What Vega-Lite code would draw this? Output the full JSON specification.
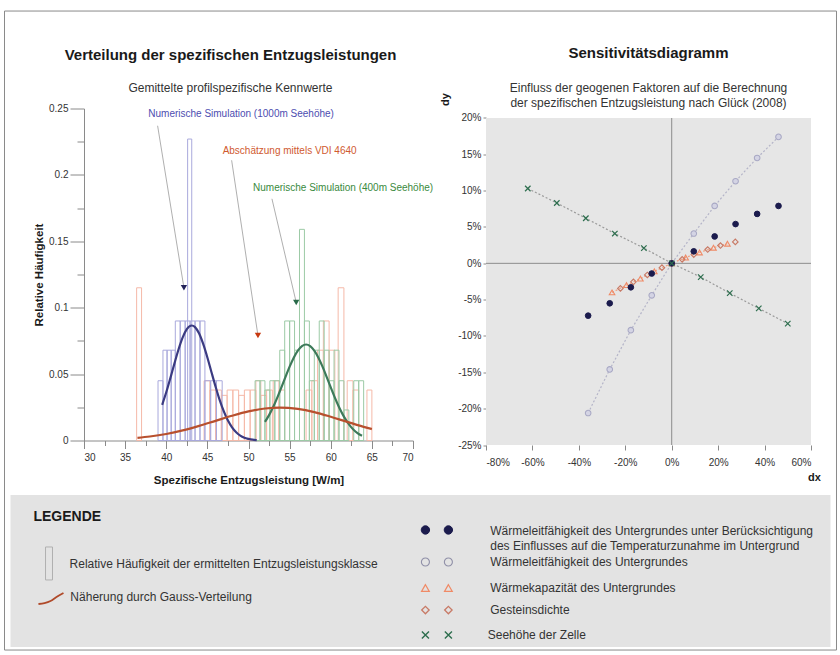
{
  "$schema": "https://vega.github.io/schema/vega-lite/v6.json",
  "padding": {"left": 4, "top": 10.5, "right": 0, "bottom": 0},
  "background": "#ffffff",
  "config": {
    "font": "Liberation Sans",
    "view": {"stroke": null},
    "axis": {"labelFont": "Liberation Sans", "titleFont": "Liberation Sans", "labelColor": "#333333", "titleColor": "#1a1a1a", "domainColor": "#8a8a8a", "tickColor": "#8a8a8a", "labelFontSize": 10, "labelOverlap": false},
    "title": {"font": "Liberation Sans", "color": "#1a1a1a", "subtitleFont": "Liberation Sans", "subtitleColor": "#333333"},
    "text": {"font": "Liberation Sans"}
  },
  "datasets": {
    "hist": [
      {"series": "VDI", "x0": 36.4, "x1": 37.0, "h": 0.115},
      {"series": "VDI", "x0": 44.6, "x1": 45.3, "h": 0.045},
      {"series": "VDI", "x0": 45.3, "x1": 46.0, "h": 0.038},
      {"series": "VDI", "x0": 46.0, "x1": 46.7, "h": 0.038},
      {"series": "VDI", "x0": 46.7, "x1": 47.4, "h": 0.034},
      {"series": "VDI", "x0": 47.4, "x1": 48.1, "h": 0.038},
      {"series": "VDI", "x0": 48.1, "x1": 48.8, "h": 0.038},
      {"series": "VDI", "x0": 48.8, "x1": 49.5, "h": 0.034},
      {"series": "VDI", "x0": 49.5, "x1": 50.2, "h": 0.038},
      {"series": "VDI", "x0": 50.2, "x1": 50.9, "h": 0.038},
      {"series": "VDI", "x0": 50.9, "x1": 51.5, "h": 0.045},
      {"series": "VDI", "x0": 51.5, "x1": 52.2, "h": 0.034},
      {"series": "VDI", "x0": 52.2, "x1": 52.9, "h": 0.038},
      {"series": "VDI", "x0": 53.0, "x1": 53.7, "h": 0.045},
      {"series": "VDI", "x0": 53.7, "x1": 54.4, "h": 0.038},
      {"series": "VDI", "x0": 57.0, "x1": 57.7, "h": 0.038},
      {"series": "VDI", "x0": 57.7, "x1": 58.4, "h": 0.045},
      {"series": "VDI", "x0": 58.4, "x1": 59.1, "h": 0.068},
      {"series": "VDI", "x0": 59.1, "x1": 59.8, "h": 0.09},
      {"series": "VDI", "x0": 59.8, "x1": 60.5, "h": 0.068},
      {"series": "VDI", "x0": 60.9, "x1": 61.6, "h": 0.115},
      {"series": "VDI", "x0": 62.0, "x1": 62.7, "h": 0.045},
      {"series": "VDI", "x0": 62.7, "x1": 63.4, "h": 0.038},
      {"series": "VDI", "x0": 64.4, "x1": 65.0, "h": 0.038},
      {"series": "1000m", "x0": 39.0, "x1": 39.6, "h": 0.045},
      {"series": "1000m", "x0": 39.6, "x1": 40.1, "h": 0.068},
      {"series": "1000m", "x0": 40.1, "x1": 40.6, "h": 0.068},
      {"series": "1000m", "x0": 40.6, "x1": 41.1, "h": 0.068},
      {"series": "1000m", "x0": 41.1, "x1": 41.7, "h": 0.09},
      {"series": "1000m", "x0": 41.7, "x1": 42.3, "h": 0.09},
      {"series": "1000m", "x0": 42.3, "x1": 42.9, "h": 0.09},
      {"series": "1000m", "x0": 42.6, "x1": 43.1, "h": 0.227},
      {"series": "1000m", "x0": 42.9, "x1": 43.5, "h": 0.09},
      {"series": "1000m", "x0": 43.5, "x1": 44.1, "h": 0.09},
      {"series": "1000m", "x0": 44.1, "x1": 44.7, "h": 0.09},
      {"series": "1000m", "x0": 44.7, "x1": 45.4, "h": 0.045},
      {"series": "1000m", "x0": 45.4, "x1": 46.1, "h": 0.045},
      {"series": "1000m", "x0": 46.1, "x1": 46.8, "h": 0.045},
      {"series": "400m", "x0": 50.8, "x1": 51.4, "h": 0.045},
      {"series": "400m", "x0": 51.4, "x1": 52.0, "h": 0.045},
      {"series": "400m", "x0": 52.0, "x1": 52.6, "h": 0.038},
      {"series": "400m", "x0": 52.6, "x1": 53.2, "h": 0.045},
      {"series": "400m", "x0": 53.2, "x1": 53.8, "h": 0.045},
      {"series": "400m", "x0": 53.8, "x1": 54.4, "h": 0.068},
      {"series": "400m", "x0": 54.4, "x1": 55.0, "h": 0.09},
      {"series": "400m", "x0": 55.0, "x1": 55.6, "h": 0.09},
      {"series": "400m", "x0": 55.6, "x1": 56.2, "h": 0.068},
      {"series": "400m", "x0": 56.2, "x1": 56.8, "h": 0.159},
      {"series": "400m", "x0": 56.8, "x1": 57.4, "h": 0.09},
      {"series": "400m", "x0": 57.4, "x1": 58.0, "h": 0.045},
      {"series": "400m", "x0": 58.0, "x1": 58.6, "h": 0.068},
      {"series": "400m", "x0": 58.6, "x1": 59.2, "h": 0.09},
      {"series": "400m", "x0": 59.2, "x1": 59.8, "h": 0.068},
      {"series": "400m", "x0": 59.8, "x1": 60.4, "h": 0.045},
      {"series": "400m", "x0": 60.4, "x1": 61.0, "h": 0.068},
      {"series": "400m", "x0": 61.0, "x1": 61.6, "h": 0.045},
      {"series": "400m", "x0": 61.6, "x1": 62.2, "h": 0.023},
      {"series": "400m", "x0": 62.8, "x1": 63.4, "h": 0.045},
      {"series": "400m", "x0": 63.4, "x1": 64.0, "h": 0.045}
    ],
    "gauss": [
      {"series": "1000m", "x": 39.5, "y": 0.0268}, {"series": "1000m", "x": 40, "y": 0.0363}, {"series": "1000m", "x": 40.5, "y": 0.047}, {"series": "1000m", "x": 41, "y": 0.0581}, {"series": "1000m", "x": 41.5, "y": 0.0687}, {"series": "1000m", "x": 42, "y": 0.0776}, {"series": "1000m", "x": 42.5, "y": 0.0838}, {"series": "1000m", "x": 43.1, "y": 0.0866}, {"series": "1000m", "x": 43.5, "y": 0.0854}, {"series": "1000m", "x": 44, "y": 0.0805}, {"series": "1000m", "x": 44.5, "y": 0.0725}, {"series": "1000m", "x": 45, "y": 0.0625}, {"series": "1000m", "x": 45.5, "y": 0.0514}, {"series": "1000m", "x": 46, "y": 0.0405}, {"series": "1000m", "x": 46.5, "y": 0.0304}, {"series": "1000m", "x": 47, "y": 0.0219}, {"series": "1000m", "x": 47.5, "y": 0.015}, {"series": "1000m", "x": 48, "y": 0.0099}, {"series": "1000m", "x": 48.5, "y": 0.0062}, {"series": "1000m", "x": 49, "y": 0.0037}, {"series": "1000m", "x": 49.5, "y": 0.0021}, {"series": "1000m", "x": 50, "y": 0.0012}, {"series": "1000m", "x": 50.5, "y": 0.0006}, {"series": "1000m", "x": 51, "y": 0.0003},
      {"series": "400m", "x": 52, "y": 0.014}, {"series": "400m", "x": 52.5, "y": 0.0191}, {"series": "400m", "x": 53, "y": 0.0252}, {"series": "400m", "x": 53.5, "y": 0.0323}, {"series": "400m", "x": 54, "y": 0.04}, {"series": "400m", "x": 54.5, "y": 0.0479}, {"series": "400m", "x": 55, "y": 0.0556}, {"series": "400m", "x": 55.5, "y": 0.0624}, {"series": "400m", "x": 56, "y": 0.0677}, {"series": "400m", "x": 56.5, "y": 0.0711}, {"series": "400m", "x": 57, "y": 0.0723}, {"series": "400m", "x": 57.5, "y": 0.0711}, {"series": "400m", "x": 58, "y": 0.0677}, {"series": "400m", "x": 58.5, "y": 0.0624}, {"series": "400m", "x": 59, "y": 0.0556}, {"series": "400m", "x": 59.5, "y": 0.0479}, {"series": "400m", "x": 60, "y": 0.04}, {"series": "400m", "x": 60.5, "y": 0.0323}, {"series": "400m", "x": 61, "y": 0.0252}, {"series": "400m", "x": 61.5, "y": 0.0191}, {"series": "400m", "x": 62, "y": 0.014}, {"series": "400m", "x": 62.5, "y": 0.0099}, {"series": "400m", "x": 63, "y": 0.0068}, {"series": "400m", "x": 63.5, "y": 0.0045}, {"series": "400m", "x": 63.8, "y": 0.0035},
      {"series": "VDI", "x": 36.5, "y": 0.002}, {"series": "VDI", "x": 38, "y": 0.003}, {"series": "VDI", "x": 40, "y": 0.0049}, {"series": "VDI", "x": 42, "y": 0.0076}, {"series": "VDI", "x": 44, "y": 0.011}, {"series": "VDI", "x": 46, "y": 0.0148}, {"series": "VDI", "x": 48, "y": 0.0186}, {"series": "VDI", "x": 50, "y": 0.0219}, {"series": "VDI", "x": 52, "y": 0.0241}, {"series": "VDI", "x": 53.8, "y": 0.0248}, {"series": "VDI", "x": 56, "y": 0.0238}, {"series": "VDI", "x": 58, "y": 0.0214}, {"series": "VDI", "x": 60, "y": 0.0179}, {"series": "VDI", "x": 62, "y": 0.014}, {"series": "VDI", "x": 64, "y": 0.0103}, {"series": "VDI", "x": 65, "y": 0.0086}
    ],
    "notes": [
      {"series": "1000m", "label": "Numerische Simulation (1000m Seehöhe)", "tx": 49.1, "ty": 0.2455, "x": 38.95, "y": 0.237, "x2": 42.15, "y2": 0.115},
      {"series": "VDI", "label": "Abschätzung mittels VDI 4640", "tx": 55.0, "ty": 0.218, "x": 47.95, "y": 0.211, "x2": 51.15, "y2": 0.079},
      {"series": "400m", "label": "Numerische Simulation (400m Seehöhe)", "tx": 61.5, "ty": 0.19, "x": 52.85, "y": 0.182, "x2": 55.8, "y2": 0.104}
    ],
    "sens": [
      {"series": "WLF", "dx": -36, "dy": -20.6}, {"series": "WLF", "dx": -26.7, "dy": -14.6}, {"series": "WLF", "dx": -17.6, "dy": -9.2}, {"series": "WLF", "dx": -8.6, "dy": -4.4}, {"series": "WLF", "dx": 0, "dy": 0}, {"series": "WLF", "dx": 9.5, "dy": 4.1}, {"series": "WLF", "dx": 18.5, "dy": 7.9}, {"series": "WLF", "dx": 27.5, "dy": 11.3}, {"series": "WLF", "dx": 36.8, "dy": 14.5}, {"series": "WLF", "dx": 46, "dy": 17.4},
      {"series": "WK", "dx": -25.7, "dy": -4.0}, {"series": "WK", "dx": -19.5, "dy": -3.0}, {"series": "WK", "dx": -13.5, "dy": -2.1}, {"series": "WK", "dx": -7.5, "dy": -1.1}, {"series": "WK", "dx": 0, "dy": 0}, {"series": "WK", "dx": 6, "dy": 0.8}, {"series": "WK", "dx": 12, "dy": 1.5}, {"series": "WK", "dx": 18, "dy": 2.15}, {"series": "WK", "dx": 24, "dy": 2.7},
      {"series": "GD", "dx": -22.1, "dy": -3.45}, {"series": "GD", "dx": -16.5, "dy": -2.55}, {"series": "GD", "dx": -10.5, "dy": -1.6}, {"series": "GD", "dx": -4.2, "dy": -0.6}, {"series": "GD", "dx": 0, "dy": 0}, {"series": "GD", "dx": 4.5, "dy": 0.55}, {"series": "GD", "dx": 9.5, "dy": 1.2}, {"series": "GD", "dx": 15.5, "dy": 1.9}, {"series": "GD", "dx": 21, "dy": 2.45}, {"series": "GD", "dx": 27.4, "dy": 2.95},
      {"series": "WLF_T", "dx": -36, "dy": -7.2}, {"series": "WLF_T", "dx": -26.7, "dy": -5.5}, {"series": "WLF_T", "dx": -17.6, "dy": -3.3}, {"series": "WLF_T", "dx": -8.6, "dy": -1.4}, {"series": "WLF_T", "dx": 0, "dy": 0}, {"series": "WLF_T", "dx": 9.5, "dy": 1.65}, {"series": "WLF_T", "dx": 18.5, "dy": 3.7}, {"series": "WLF_T", "dx": 27.5, "dy": 5.4}, {"series": "WLF_T", "dx": 36.8, "dy": 6.8}, {"series": "WLF_T", "dx": 46, "dy": 7.9},
      {"series": "SH", "dx": -62, "dy": 10.3}, {"series": "SH", "dx": -49.5, "dy": 8.3}, {"series": "SH", "dx": -37, "dy": 6.2}, {"series": "SH", "dx": -24.5, "dy": 4.1}, {"series": "SH", "dx": -12, "dy": 2.1}, {"series": "SH", "dx": 0, "dy": 0}, {"series": "SH", "dx": 12.5, "dy": -1.9}, {"series": "SH", "dx": 25, "dy": -4.1}, {"series": "SH", "dx": 37.5, "dy": -6.2}, {"series": "SH", "dx": 50, "dy": -8.3}
    ],
    "legtext": [
      {"side": "head", "text": "LEGENDE", "x": 2.8, "y": 14.5},
      {"side": "left", "text": "Relative Häufigkeit der ermittelten Entzugsleistungsklasse", "x": 7.2, "y": 45.4},
      {"side": "left", "text": "Näherung durch Gauss-Verteilung", "x": 7.3, "y": 67.1},
      {"side": "right", "text": ["Wärmeleitfähigkeit des Untergrundes unter Berücksichtigung", "des Einflusses auf die Temperaturzunahme im Untergrund"], "x": 58.5, "y": 23.4},
      {"side": "right", "text": "Wärmeleitfähigkeit des Untergrundes", "x": 58.5, "y": 44.1},
      {"side": "right", "text": "Wärmekapazität des Untergrundes", "x": 58.5, "y": 61.2},
      {"side": "right", "text": "Gesteinsdichte", "x": 58.5, "y": 75.7},
      {"side": "right", "text": "Seehöhe der Zelle", "x": 58.2, "y": 92.1}
    ],
    "legsym": [
      {"series": "WLF_T", "x": 50.6, "y": 23.0}, {"series": "WLF_T", "x": 53.4, "y": 23.0},
      {"series": "WLF", "x": 50.6, "y": 44.1}, {"series": "WLF", "x": 53.4, "y": 44.1},
      {"series": "WK", "x": 50.6, "y": 61.2}, {"series": "WK", "x": 53.4, "y": 61.2},
      {"series": "GD", "x": 50.6, "y": 75.7}, {"series": "GD", "x": 53.4, "y": 75.7},
      {"series": "SH", "x": 50.6, "y": 92.1}, {"series": "SH", "x": 53.4, "y": 92.1}
    ],
    "legcurve": [
      {"x": 3.41, "y": 71.7}, {"x": 4.15, "y": 71.1}, {"x": 4.88, "y": 69.7}, {"x": 5.61, "y": 67.1}, {"x": 6.46, "y": 64.5}
    ]
  },
  "spacing": -476.5,
  "resolve": {"scale": {"color": "independent", "fill": "independent", "stroke": "independent", "shape": "independent", "size": "independent", "strokeWidth": "independent"}},
  "vconcat": [
    {
      "spacing": 5,
      "resolve": {"scale": {"color": "independent", "fill": "independent", "stroke": "independent", "shape": "independent", "size": "independent", "strokeWidth": "independent"}},
      "hconcat": [
        {
          "width": 329,
          "height": 332,
          "title": {"text": "Verteilung der spezifischen Entzugsleistungen", "subtitle": "Gemittelte profilspezifische Kennwerte", "fontSize": 15, "fontWeight": "bold", "subtitleFontSize": 12, "anchor": "middle", "frame": "group", "dx": -18, "offset": 10, "subtitlePadding": 20},
          "resolve": {"scale": {"color": "independent"}},
          "layer": [
            {
              "data": {"name": "hist"},
              "mark": {"type": "rect", "filled": false, "strokeWidth": 1},
              "encoding": {
                "x": {"field": "x0", "type": "quantitative", "scale": {"domain": [30, 70], "nice": false, "zero": false},
                  "axis": {"title": "Spezifische Entzugsleistung [W/m]", "values": [30, 32.5, 35, 37.5, 40, 42.5, 45, 47.5, 50, 52.5, 55, 57.5, 60, 62.5, 65, 67.5, 70], "tickCount": 100, "format": "~g", "labelExpr": "datum.value % 5 === 0 ? datum.label : ''", "labelOverlap": false, "tickSize": {"condition": {"test": "datum.value % 5 === 0", "value": 8}, "value": 5}, "labelPadding": 4, "grid": false, "titleFontSize": 11.5, "titleFontWeight": "bold", "titlePadding": 12}},
                "x2": {"field": "x1"},
                "y": {"field": "h", "type": "quantitative", "scale": {"domain": [0, 0.25], "nice": false},
                  "axis": {"title": "Relative Häufigkeit", "values": [0, 0.025, 0.05, 0.075, 0.1, 0.125, 0.15, 0.175, 0.2, 0.225, 0.25], "tickCount": 100, "format": ".2~f", "labelExpr": "abs(datum.value * 20 - round(datum.value * 20)) < 0.001 ? datum.label : ''", "labelOverlap": false, "tickSize": {"condition": {"test": "abs(datum.value * 20 - round(datum.value * 20)) < 0.001", "value": 14}, "value": 7}, "labelPadding": 2, "grid": false, "titleFontSize": 11.5, "titleFontWeight": "bold", "titlePadding": 4}},
                "y2": {"datum": 0},
                "stroke": {"field": "series", "type": "nominal", "scale": {"domain": ["1000m", "400m", "VDI"], "range": ["#a9a9dc", "#9ccaa6", "#f5b9a8"]}, "legend": null}
              }
            },
            {
              "data": {"name": "gauss"},
              "mark": {"type": "line", "strokeWidth": 2.2, "interpolate": "monotone"},
              "encoding": {
                "x": {"field": "x", "type": "quantitative"},
                "y": {"field": "y", "type": "quantitative"},
                "color": {"field": "series", "type": "nominal", "scale": {"domain": ["1000m", "400m", "VDI"], "range": ["#3b3b82", "#3d7a5a", "#b8502e"]}, "legend": null}
              }
            },
            {
              "data": {"name": "notes"},
              "mark": {"type": "rule", "color": "#9a9a9a", "strokeWidth": 0.8},
              "encoding": {
                "x": {"field": "x", "type": "quantitative"},
                "y": {"field": "y", "type": "quantitative"},
                "x2": {"field": "x2"},
                "y2": {"field": "y2"}
              }
            },
            {
              "data": {"name": "notes"},
              "mark": {"type": "point", "shape": "triangle-down", "filled": true, "size": 40, "opacity": 1},
              "encoding": {
                "x": {"field": "x2", "type": "quantitative"},
                "y": {"field": "y2", "type": "quantitative"},
                "color": {"field": "series", "type": "nominal", "scale": {"domain": ["1000m", "400m", "VDI"], "range": ["#22225a", "#2a6a4a", "#c83a10"]}, "legend": null}
              }
            },
            {
              "data": {"name": "notes"},
              "mark": {"type": "text", "fontSize": 10, "align": "center", "baseline": "middle"},
              "encoding": {
                "x": {"field": "tx", "type": "quantitative"},
                "y": {"field": "ty", "type": "quantitative"},
                "text": {"field": "label"},
                "color": {"field": "series", "type": "nominal", "scale": {"domain": ["1000m", "400m", "VDI"], "range": ["#4d4db0", "#3a8a40", "#d05a30"]}, "legend": null}
              }
            },
            {
              "data": {"values": [{}]},
              "mark": {"type": "rule", "strokeOpacity": 0},
              "encoding": {"x": {"datum": 21.06}, "y": {"datum": 0.1}, "y2": {"datum": 0.11}}
            }
          ]
        },
        {
          "width": 325,
          "height": 336.5,
          "title": {"text": "Sensitivitätsdiagramm", "subtitle": ["Einfluss der geogenen Faktoren auf die Berechnung", "der spezifischen Entzugsleistung nach Glück (2008)"], "fontSize": 15, "fontWeight": "bold", "subtitleFontSize": 12, "subtitleLineHeight": 15, "anchor": "middle", "frame": "group", "offset": -16.3, "subtitlePadding": 22.3},
          "resolve": {"scale": {"color": "independent"}},
          "layer": [
            {
              "data": {"values": [{}]},
              "mark": {"type": "rect", "color": "#e6e6e6"},
              "encoding": {"x": {"datum": -80}, "x2": {"datum": 60}, "y": {"datum": -25}, "y2": {"datum": 20}}
            },
            {
              "data": {"name": "sens"},
              "transform": [{"filter": "datum.series === 'WLF' || datum.series === 'SH' || datum.series === 'WK'"}],
              "mark": {"type": "line", "strokeDash": [2, 2], "strokeWidth": 1.2},
              "encoding": {
                "x": {"field": "dx", "type": "quantitative"},
                "y": {"field": "dy", "type": "quantitative"},
                "color": {"field": "series", "type": "nominal", "scale": {"domain": ["WLF", "SH", "WK"], "range": ["#b4b4c8", "#9a9a9a", "#f0a080"]}, "legend": null}
              }
            },
            {
              "data": {"values": [{}]},
              "mark": {"type": "rule", "color": "#8c8c8c", "strokeWidth": 1},
              "encoding": {"x": {"datum": 0}, "y": {"datum": -25}, "y2": {"datum": 20}}
            },
            {
              "data": {"values": [{}]},
              "mark": {"type": "rule", "color": "#8c8c8c", "strokeWidth": 1},
              "encoding": {"y": {"datum": 0}}
            },
            {
              "data": {"name": "sens"},
              "mark": {"type": "point", "opacity": 1},
              "encoding": {
                "x": {"field": "dx", "type": "quantitative", "scale": {"domain": [-80, 60], "nice": false, "zero": false},
                  "axis": {"title": "dx", "values": [-80, -60, -40, -20, 0, 20, 40, 60], "tickCount": 100, "labelExpr": "datum.value + '%'", "labelOverlap": false, "grid": true, "gridColor": "#ffffff", "gridDash": [5, 4], "gridWidth": 1, "domain": false, "tickSize": 5, "labelPadding": 7, "titleX": 328, "titleY": 32, "titleAngle": 0, "titleAlign": "center", "titleBaseline": "middle", "titleFontSize": 11, "titleFontWeight": "bold"}},
                "y": {"field": "dy", "type": "quantitative", "scale": {"domain": [-25, 21.307], "nice": false, "zero": false},
                  "axis": {"title": "dy", "values": [-25, -20, -15, -10, -5, 0, 5, 10, 15, 20], "tickCount": 100, "labelExpr": "datum.value + '%'", "labelOverlap": false, "labelFlush": false, "grid": true, "gridColor": "#ffffff", "gridDash": [5, 4], "gridWidth": 1, "domain": false, "tickSize": 3, "labelPadding": 2, "titleX": -41, "titleY": -9.5, "titleAngle": 270, "titleAlign": "center", "titleBaseline": "middle", "titleFontSize": 11, "titleFontWeight": "bold"}},
                "shape": {"field": "series", "type": "nominal", "scale": {"domain": ["WLF_T", "WLF", "WK", "GD", "SH"], "range": ["circle", "circle", "triangle-up", "diamond", "M-1,-1L1,1M-1,1L1,-1"]}, "legend": null},
                "fill": {"field": "series", "type": "nominal", "scale": {"domain": ["WLF_T", "WLF", "WK", "GD", "SH"], "range": ["#1b1b4d", "#d4d4e4", "transparent", "transparent", "transparent"]}, "legend": null},
                "stroke": {"field": "series", "type": "nominal", "scale": {"domain": ["WLF_T", "WLF", "WK", "GD", "SH"], "range": ["#1b1b4d", "#a8a8c4", "#f08a66", "#c87a66", "#2d6e4e"]}, "legend": null},
                "size": {"field": "series", "type": "nominal", "scale": {"domain": ["WLF_T", "WLF", "WK", "GD", "SH"], "range": [32, 30, 20, 20, 72]}, "legend": null},
                "strokeWidth": {"field": "series", "type": "nominal", "scale": {"domain": ["WLF_T", "WLF", "WK", "GD", "SH"], "range": [1, 1.2, 1.2, 1.2, 1.9]}, "legend": null}
              }
            }
          ]
        }
      ]
    },
    {
      "width": 746.5,
      "height": 152,
      "layer": [
        {
          "data": {"values": [{}]},
          "mark": {"type": "rect", "color": "#e3e3e3"},
          "encoding": {
            "x": {"datum": 0, "type": "quantitative", "scale": {"domain": [8.963, 100], "nice": false, "zero": false}, "axis": null},
            "x2": {"datum": 100},
            "y": {"datum": 0, "type": "quantitative", "scale": {"domain": [0, 100], "nice": false, "reverse": true}, "axis": null},
            "y2": {"datum": 100}
          }
        },
        {
          "data": {"values": [{}]},
          "mark": {"type": "rect", "filled": false, "stroke": "#8a8a8a", "strokeWidth": 1},
          "encoding": {
            "x": {"datum": -0.732},
            "x2": {"datum": 100.73},
            "y": {"datum": -318.4},
            "y2": {"datum": 102}
          }
        },
        {
          "data": {"name": "legtext"},
          "transform": [{"filter": "datum.side === 'head'"}],
          "mark": {"type": "text", "align": "left", "baseline": "middle", "fontSize": 14, "fontWeight": "bold", "color": "#1a1a1a"},
          "encoding": {
            "x": {"field": "x", "type": "quantitative"},
            "y": {"field": "y", "type": "quantitative"},
            "text": {"field": "text"}
          }
        },
        {
          "data": {"name": "legtext"},
          "transform": [{"filter": "datum.side !== 'head'"}],
          "mark": {"type": "text", "align": "left", "baseline": "middle", "fontSize": 12, "lineHeight": 15, "color": "#333333"},
          "encoding": {
            "x": {"field": "x", "type": "quantitative"},
            "y": {"field": "y", "type": "quantitative"},
            "text": {"field": "text"}
          }
        },
        {
          "data": {"values": [{"x": 4.27, "x2": 5.12, "y": 34.2, "y2": 55.9}]},
          "mark": {"type": "rect", "filled": false, "stroke": "#b0b0b0", "strokeWidth": 1},
          "encoding": {
            "x": {"field": "x", "type": "quantitative"},
            "x2": {"field": "x2"},
            "y": {"field": "y", "type": "quantitative"},
            "y2": {"field": "y2"}
          }
        },
        {
          "data": {"name": "legcurve"},
          "mark": {"type": "line", "color": "#b04a2a", "strokeWidth": 1.8, "interpolate": "monotone"},
          "encoding": {
            "x": {"field": "x", "type": "quantitative"},
            "y": {"field": "y", "type": "quantitative"}
          }
        },
        {
          "data": {"name": "legsym"},
          "mark": {"type": "point", "opacity": 1},
          "encoding": {
            "x": {"field": "x", "type": "quantitative"},
            "y": {"field": "y", "type": "quantitative"},
            "shape": {"field": "series", "type": "nominal", "scale": {"domain": ["WLF_T", "WLF", "WK", "GD", "SH"], "range": ["circle", "circle", "triangle-up", "diamond", "M-1,-1L1,1M-1,1L1,-1"]}, "legend": null},
            "fill": {"field": "series", "type": "nominal", "scale": {"domain": ["WLF_T", "WLF", "WK", "GD", "SH"], "range": ["#1b1b4d", "#e3e3e3", "transparent", "transparent", "transparent"]}, "legend": null},
            "stroke": {"field": "series", "type": "nominal", "scale": {"domain": ["WLF_T", "WLF", "WK", "GD", "SH"], "range": ["#1b1b4d", "#9090a8", "#f08a66", "#c87a66", "#2d6e4e"]}, "legend": null},
            "size": {"field": "series", "type": "nominal", "scale": {"domain": ["WLF_T", "WLF", "WK", "GD", "SH"], "range": [70, 50, 40, 40, 90]}, "legend": null},
            "strokeWidth": {"field": "series", "type": "nominal", "scale": {"domain": ["WLF_T", "WLF", "WK", "GD", "SH"], "range": [1, 1.4, 1.4, 1.4, 1.8]}, "legend": null}
          }
        }
      ]
    }
  ]
}
